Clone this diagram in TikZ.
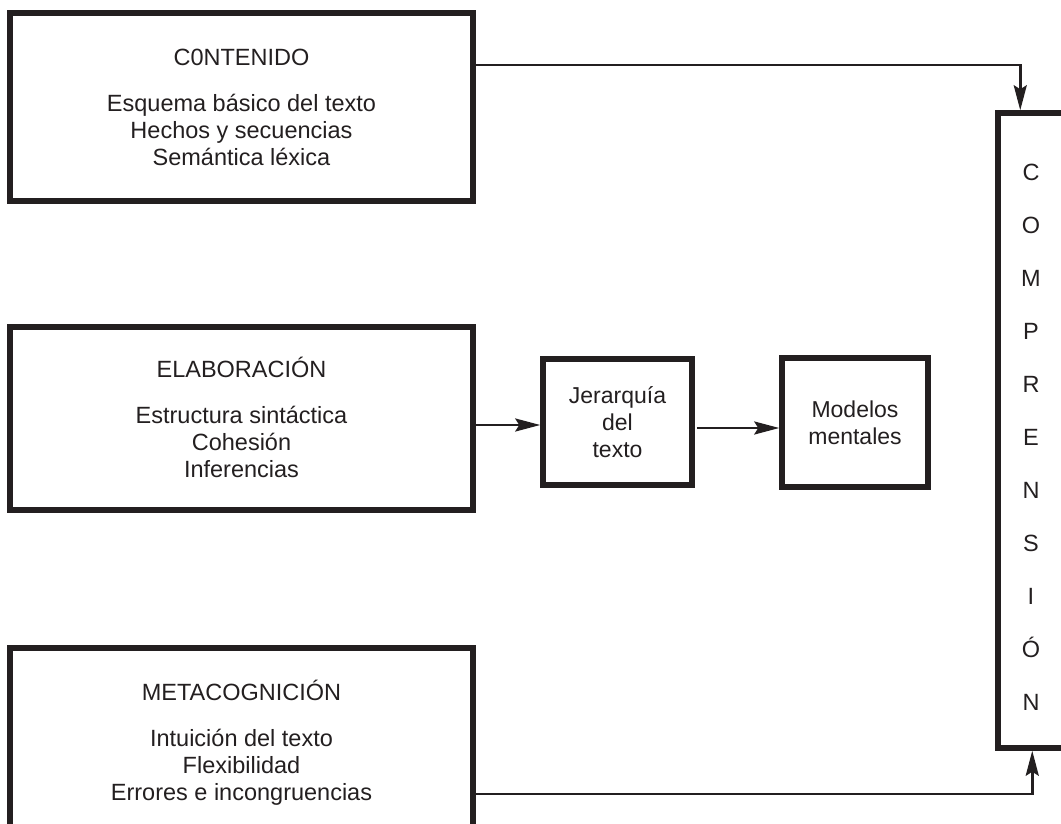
\documentclass[tikz,border=0pt]{standalone}
\usepackage{fontspec}
\setmainfont{Liberation Sans}
\usetikzlibrary{arrows.meta,calc}
\definecolor{ink}{HTML}{231F20}
\newcommand{\toprule}{\rule{0pt}{22pt}}
\newcommand{\botrule}{\rule[-5pt]{0pt}{5pt}}
\tikzset{
  bigbox/.style={draw=ink, line width=5.5pt, minimum width=463pt, align=center,
    inner sep=0pt, text=ink, font=\fontsize{23.5}{27}\selectfont},
  smallbox/.style={draw=ink, line width=5.5pt, align=center, inner sep=0pt,
    text=ink, font=\fontsize{23}{27}\selectfont},
  compbox/.style={draw=ink, line width=5.5pt, align=center, inner sep=0pt,
    text=ink, font=\fontsize{23.5}{53}\selectfont},
  conn/.style={draw=ink, line width=2.6pt,
    -{Stealth[length=25pt,width=13pt,inset=4pt]}},
}
\begin{document}
\begin{tikzpicture}[x=1pt,y=-1pt]
\useasboundingbox (0,0) rectangle (1061,824);
\fill[white] (0,0) rectangle (1061,824);
\clip (0,0) rectangle (1061,824);

\node[bigbox, minimum height=188pt] (cont) at (241.5,107)
  {\toprule C0NTENIDO\\[19pt]Esquema básico del texto\\Hechos y secuencias\\Semántica léxica\botrule};
\node[bigbox, minimum height=183pt] (elab) at (241.5,418.5)
  {\toprule ELABORACIÓN\\[19pt]Estructura sintáctica\\Cohesión\\Inferencias\botrule};
\node[bigbox, minimum height=188pt] (meta) at (241.5,742)
  {\toprule METACOGNICIÓN\\[19pt]Intuición del texto\\Flexibilidad\\Errores e incongruencias\botrule};

\node[smallbox, minimum width=149pt, minimum height=126pt] (jer) at (617.5,422)
  {Jerarquía\\del\\texto};
\node[smallbox, minimum width=146pt, minimum height=129pt] (mod) at (855,422.5)
  {Modelos\\mentales};

\node[compbox, minimum width=66pt, minimum height=635pt] (comp) at (1031,430.5)
  {\rule{0pt}{30pt}C\\O\\M\\P\\R\\E\\N\\S\\I\\Ó\\N};

\draw[conn] (cont.east |- 0,65) -| ($(comp.north west)+(25,0)$);
\draw[conn] (meta.east |- 0,794) -| ($(comp.south west)+(37,0)$);
\draw[conn] (elab.east |- 0,425) -- (jer.west |- 0,425);
\draw[conn] ($(jer.east |- 0,428)+(2,0)$) -- (mod.west |- 0,428);
\end{tikzpicture}
\end{document}
